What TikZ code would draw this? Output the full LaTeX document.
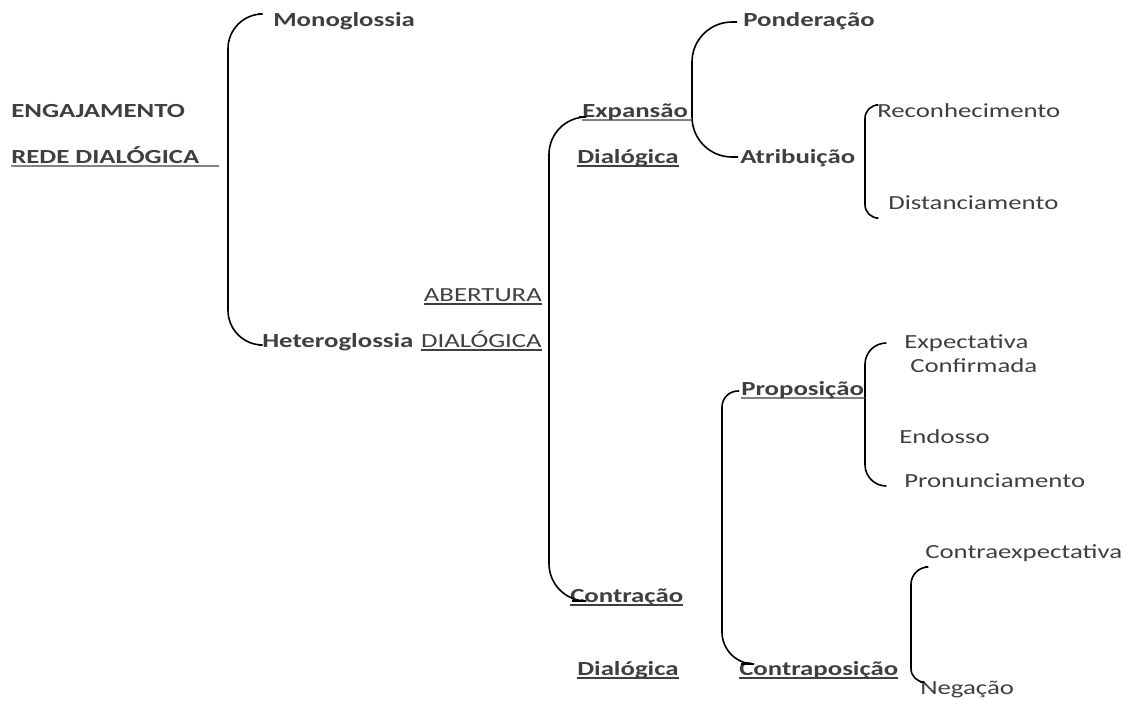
\documentclass[tikz,border=0pt]{standalone}
\usepackage{fontspec}
\setmainfont{Carlito}[FakeStretch=1.34]
\definecolor{txt}{HTML}{3F3F3F}
\begin{document}
\begin{tikzpicture}[x=0.75pt,y=-0.75pt,
  lbl/.style={anchor=base west, inner sep=0pt, text=txt, font=\fontsize{15}{17}\selectfont},
  bl/.style={lbl, font=\fontsize{15}{17}\selectfont\bfseries},
  brk/.style={draw=black, line width=1.2pt, rounded corners=#1},
  ul/.style={draw=txt, line width=0.9pt}]
\useasboundingbox (0,0) rectangle (1131,700);
% labels
\node[bl] (mono) at (273,26) {Monoglossia};
\node[bl] (eng) at (11,117) {ENGAJAMENTO};
\node[bl] (rede) at (11,163) {REDE DIALÓGICA};
\node[bl] (het) at (262,347) {Heteroglossia};
\node[lbl, anchor=base east] (abe) at (542,301) {ABERTURA};
\node[lbl, anchor=base east] (dia) at (542,347) {DIALÓGICA};
\node[bl] (exp) at (582,117) {Expansão};
\node[bl] (dlg1) at (577,163) {Dialógica};
\node[bl] (pond) at (743,26) {Ponderação};
\node[bl] (atr) at (740,163) {Atribuição};
\node[lbl] (rec) at (877,117) {Reconhecimento};
\node[lbl] (dist) at (888,209) {Distanciamento};
\node[bl] (prop) at (741,395) {Proposição};
\node[lbl] (expc) at (904,348) {Expectativa};
\node[lbl] (conf) at (910,372) {Confirmada};
\node[lbl] (endo) at (899,443) {Endosso};
\node[lbl] (pron) at (904,487) {Pronunciamento};
\node[bl] (contr) at (570,602) {Contração};
\node[bl] (dlg2) at (577,675) {Dialógica};
\node[bl] (contp) at (739,675) {Contraposição};
\node[lbl] (cexp) at (925,558) {Contraexpectativa};
\node[lbl] (neg) at (920,694) {Negação};
% bracket coordinates
\coordinate (b1t) at (258,14);  \coordinate (b1v) at (228,200); \coordinate (b1b) at (259,345);
\coordinate (b2t) at (579,117); \coordinate (b2v) at (549,300); \coordinate (b2b) at (572,601);
\coordinate (b3t) at (737,22);  \coordinate (b3v) at (692,90);  \coordinate (b3b) at (738,157);
\coordinate (b4t) at (876,105); \coordinate (b4v) at (865,160); \coordinate (b4b) at (876,218);
\coordinate (b5t) at (886,343); \coordinate (b5v) at (865,400); \coordinate (b5b) at (886,486);
\coordinate (b6t) at (739,391); \coordinate (b6v) at (722,500); \coordinate (b6b) at (741,664);
\coordinate (b7t) at (925,567); \coordinate (b7v) at (911,620); \coordinate (b7b) at (920,682);
\coordinate (redeEnd) at (219,166);
\coordinate (expEnd) at (692,120);
\coordinate (propEnd) at (865,398);
% brackets
\draw[brk=26] (b1t) -| (b1v |- b1b) -- (b1b);
\draw[brk=28] (b2t) -| (b2v |- b2b) -- (b2b);
\draw[brk=30] (b3t) -| (b3v |- b3b) -- (b3b);
\draw[brk=10] (b4t) -| (b4v |- b4b) -- (b4b);
\draw[brk=16] (b5t) -| (b5v |- b5b) -- (b5b);
\draw[brk=12] (b6t) -| (b6v);
\draw[brk=24] (b6v) |- (b6b);
\draw[brk=13] (b7t) -| (b7v);
\draw[brk=10] (b7v) |- (b7b);
% underlines
\draw[ul] ([yshift=-2.2pt]rede.base west) -- (redeEnd);
\draw[ul] ([yshift=-2.2pt]abe.base west) -- ([yshift=-2.2pt]abe.base east);
\draw[ul] ([yshift=-2.2pt]dia.base west) -- ([yshift=-2.2pt]dia.base east);
\draw[ul] ([yshift=-2.2pt]exp.base west) -- (expEnd);
\draw[ul] ([yshift=-2.2pt]dlg1.base west) -- ([yshift=-2.2pt]dlg1.base east);
\draw[ul] ([yshift=-2.2pt]prop.base west) -- (propEnd);
\draw[ul] ([yshift=-2.2pt]contr.base west) -- ([yshift=-2.2pt]contr.base east);
\draw[ul] ([yshift=-2.2pt]dlg2.base west) -- ([yshift=-2.2pt]dlg2.base east);
\draw[ul] ([yshift=-2.2pt]contp.base west) -- ([yshift=-2.2pt]contp.base east);
\end{tikzpicture}
\end{document}
